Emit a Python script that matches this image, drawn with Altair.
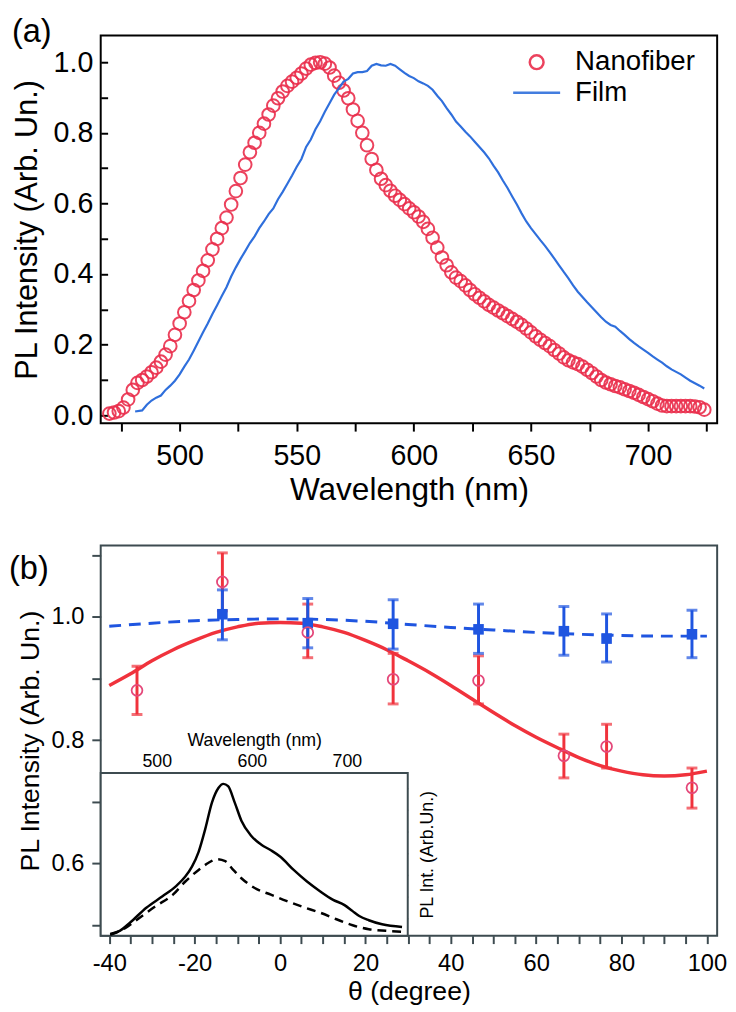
import altair as alt
import pandas as pd

FONT = "Liberation Sans"

# ---------------- panel (a) data ----------------
SERIES = ["Nanofiber", "Film"]
SERIES_COLORS = ["#ea2e4c", "#2f6fdc"]
SERIES_SHAPES = ["circle", "M-3.4,0L3.4,0"]

NANO_WL = list(range(470, 725, 2))
NANO_I = [
    0.005, 0.008, 0.012, 0.022, 0.045, 0.072, 0.092, 0.100, 0.110, 0.122,
    0.135, 0.152, 0.172, 0.196, 0.228, 0.260, 0.292, 0.324, 0.355, 0.382,
    0.409, 0.439, 0.470, 0.500, 0.530, 0.560, 0.597, 0.635, 0.672, 0.710,
    0.745, 0.772, 0.800, 0.826, 0.852, 0.877, 0.898, 0.917, 0.933, 0.945,
    0.956, 0.968, 0.982, 0.993, 0.998, 1.000, 0.996, 0.985, 0.962, 0.942,
    0.920, 0.898, 0.866, 0.834, 0.800, 0.765, 0.726, 0.695, 0.670, 0.652,
    0.636, 0.622, 0.610, 0.598, 0.586, 0.575, 0.563, 0.548, 0.528, 0.503,
    0.475, 0.447, 0.425, 0.405, 0.390, 0.380, 0.368, 0.355, 0.343, 0.333,
    0.323, 0.313, 0.305, 0.297, 0.289, 0.281, 0.273, 0.265, 0.256, 0.246,
    0.235, 0.224, 0.214, 0.205, 0.196, 0.185, 0.175, 0.164, 0.156, 0.150,
    0.145, 0.138, 0.129, 0.120, 0.110, 0.100, 0.093, 0.088, 0.083, 0.079,
    0.074, 0.069, 0.064, 0.058, 0.052, 0.046, 0.040, 0.033, 0.028, 0.026,
    0.026, 0.026, 0.026, 0.026, 0.026, 0.025, 0.023, 0.016,
]

FILM_WL = [481] + list(range(484, 725, 2))
FILM_I = [
    0.011,
    0.014, 0.030, 0.042, 0.050, 0.056, 0.072, 0.084, 0.098, 0.116, 0.138,
    0.158, 0.183, 0.209, 0.235, 0.260, 0.287, 0.312, 0.338, 0.363, 0.393,
    0.419, 0.443, 0.465, 0.488, 0.507, 0.530, 0.549, 0.570, 0.586, 0.612,
    0.633, 0.656, 0.679, 0.704, 0.726, 0.760, 0.781, 0.810, 0.833, 0.860,
    0.884, 0.908, 0.926, 0.945, 0.953, 0.968, 0.972, 0.972, 0.975, 0.990,
    0.995, 0.991, 0.990, 0.995, 0.990, 0.980, 0.970, 0.961, 0.955, 0.946,
    0.940, 0.933, 0.922, 0.905, 0.890, 0.870, 0.852, 0.832, 0.818, 0.803,
    0.790, 0.775, 0.760, 0.745, 0.728, 0.707, 0.688, 0.665, 0.644, 0.620,
    0.597, 0.572, 0.549, 0.530, 0.513, 0.496, 0.480, 0.462, 0.444, 0.425,
    0.406, 0.388, 0.368, 0.350, 0.335, 0.320, 0.306, 0.292, 0.278, 0.265,
    0.256, 0.251, 0.239, 0.228, 0.216, 0.205, 0.195, 0.186, 0.177, 0.167,
    0.158, 0.149, 0.139, 0.130, 0.123, 0.116, 0.107, 0.098, 0.091, 0.084,
    0.076,
]

A_X_DOMAIN = [466.3, 729.5]
A_Y_DOMAIN = [-0.0223, 1.0754]
A_X_TICKS = [475, 500, 525, 550, 575, 600, 625, 650, 675, 700, 725]
A_Y_TICKS = [0.0, 0.1, 0.2, 0.3, 0.4, 0.5, 0.6, 0.7, 0.8, 0.9, 1.0]

# ---------------- panel (b) data ----------------
FIT_TH = [-40, -35, -30, -25, -20, -15, -10, -5, 0, 5, 10, 15, 20, 25, 30,
          35, 40, 45, 50, 55, 60, 65, 70, 75, 80, 85, 90, 95, 100]
RED_FIT = [0.889, 0.908, 0.929, 0.947, 0.962, 0.975, 0.984, 0.990, 0.991,
           0.990, 0.984, 0.975, 0.962, 0.947, 0.929, 0.910, 0.889, 0.867,
           0.845, 0.824, 0.805, 0.788, 0.772, 0.759, 0.750, 0.744, 0.742,
           0.744, 0.750]
BLUE_FIT_TH = [-40, -30, -20, -10, 0, 10, 20, 30, 40, 50, 60, 70, 80, 90, 100]
BLUE_FIT = [0.985, 0.990, 0.994, 0.996, 0.997, 0.996, 0.993, 0.988, 0.983,
            0.979, 0.975, 0.972, 0.970, 0.969, 0.969]

RED_TH = [-33.5, -13.5, 6.5, 26.5, 46.5, 66.5, 76.5, 96.5]
RED_Y = [0.881, 1.057, 0.975, 0.899, 0.897, 0.775, 0.790, 0.723]
RED_LO = [0.842, 1.010, 0.934, 0.859, 0.859, 0.739, 0.755, 0.690]
RED_HI = [0.920, 1.104, 1.021, 0.941, 0.937, 0.810, 0.826, 0.755]

BLUE_TH = [-13.5, 6.5, 26.5, 46.5, 66.5, 76.5, 96.5]
BLUE_Y = [1.0045, 0.990, 0.989, 0.980, 0.977, 0.965, 0.972]
BLUE_LO = [0.963, 0.950, 0.948, 0.941, 0.938, 0.927, 0.934]
BLUE_HI = [1.044, 1.030, 1.028, 1.021, 1.017, 1.005, 1.011]

B_X_DOMAIN = [-42.0, 102.4]
B_Y_DOMAIN = [0.483, 1.116]
B_X_TICKS = [-40, -35, -30, -25, -20, -15, -10, -5, 0, 5, 10, 15, 20, 25,
             30, 35, 40, 45, 50, 55, 60, 65, 70, 75, 80, 85, 90, 95, 100]
B_Y_TICKS = [0.5, 0.6, 0.7, 0.8, 0.9, 1.0, 1.1]

# inset (spectra)
INSET_SOLID_WL = [451, 461, 472, 489, 506, 520, 530, 537, 544, 551, 558, 565,
                  570, 575, 582, 589, 599, 610, 620, 630, 644, 658, 672, 685,
                  697.5, 706, 713, 723, 737, 758]
INSET_SOLID_I = [0.010, 0.030, 0.081, 0.172, 0.242, 0.303, 0.363, 0.424,
                 0.515, 0.656, 0.818, 0.909, 0.933, 0.919, 0.818, 0.707,
                 0.616, 0.559, 0.525, 0.485, 0.404, 0.333, 0.272, 0.222,
                 0.188, 0.151, 0.121, 0.095, 0.070, 0.054]
INSET_DASH_WL = [451, 465, 482, 499, 517, 530, 544, 554.5, 563, 572, 579,
                 589, 603, 620, 637, 654, 672, 689, 706, 723, 741, 758]
INSET_DASH_I = [0.006, 0.040, 0.111, 0.182, 0.252, 0.333, 0.404, 0.448,
                0.470, 0.458, 0.414, 0.353, 0.293, 0.252, 0.212, 0.176,
                0.141, 0.101, 0.064, 0.040, 0.030, 0.024]
INSET_WL_DOMAIN = [441, 764]
INSET_I_DOMAIN = [0, 1]
INSET_WL_TICKS = [450, 475, 500, 525, 550, 575, 600, 625, 650, 675, 700, 725, 750]
INSET_I_TICKS = [0.104, 0.238, 0.372, 0.506, 0.640, 0.774, 0.908]

# ---------------- layout constants ----------------
W = 625
HA = 393
HB = 395.6
INSET_W = 311.3
INSET_TOP = 230.6

RED = "#f0323c"
RED_PT = "#e4487a"
BLUE = "#1f55e0"
SLATE = "#3d4b50"

# ================= panel (a) =================
nano_df = pd.DataFrame({"wl": NANO_WL[:len(NANO_I)], "I": NANO_I[:len(NANO_WL)]})
nano_df["series"] = "Nanofiber"
n = min(len(FILM_WL), len(FILM_I))
film_df = pd.DataFrame({"wl": FILM_WL[:n], "I": FILM_I[:n]})
film_df["series"] = "Film"

xa = alt.X("wl:Q", title="Wavelength (nm)",
           scale=alt.Scale(domain=A_X_DOMAIN, nice=False, zero=False),
           axis=alt.Axis(values=A_X_TICKS,
                         labelExpr="datum.value % 50 === 0 ? datum.label : ''",
                         tickSize=8, tickWidth=2, tickColor="black", domain=False,
                         labelFontSize=29, labelPadding=11, titleFontSize=32,
                         titlePadding=4, labelOverlap=False, grid=False))
ya = alt.Y("I:Q", title="PL Intensity (Arb. Un.)",
           scale=alt.Scale(domain=A_Y_DOMAIN, nice=False, zero=False),
           axis=alt.Axis(values=A_Y_TICKS,
                         labelExpr="round(datum.value*10) % 2 === 0 ? format(datum.value, '.1f') : ''",
                         offset=-7, tickSize=7, tickWidth=2, tickColor="black",
                         domain=False, labelFontSize=29, labelPadding=8,
                         titleFontSize=31, titlePadding=10, labelOverlap=False,
                         grid=False))

leg = alt.Legend(orient="none", legendX=428, legendY=13,
                 labelFont=FONT, labelFontSize=28, labelColor="black",
                 labelOffset=25, rowPadding=3, symbolSize=196,
                 symbolStrokeWidth=2.5, padding=0, labelLimit=0)
color_enc = alt.Color("series:N", title=None,
                      scale=alt.Scale(domain=SERIES, range=SERIES_COLORS),
                      legend=leg)
shape_enc = alt.Shape("series:N", title=None,
                      scale=alt.Scale(domain=SERIES, range=SERIES_SHAPES),
                      legend=leg)

nano = alt.Chart(nano_df).mark_point(filled=False, size=165, strokeWidth=2,
                                     opacity=0.9).encode(
    x=xa, y=ya, color=color_enc, shape=shape_enc)
film = alt.Chart(film_df).mark_line(strokeWidth=2.2).encode(
    x=xa, y=ya, color=color_enc)
lab_a = alt.Chart(pd.DataFrame({"t": ["(a)"]})).mark_text(
    font=FONT, fontSize=33, align="left", baseline="middle", color="black"
).encode(text="t:N", x=alt.value(-90), y=alt.value(-4))

panel_a = alt.layer(nano, film, lab_a).properties(
    width=W, height=HA,
    view=alt.ViewBackground(stroke="black", strokeWidth=2))

# ================= panel (b) =================
xb = alt.X("th:Q", title="θ (degree)",
           scale=alt.Scale(domain=B_X_DOMAIN, nice=False, zero=False),
           axis=alt.Axis(values=B_X_TICKS,
                         labelExpr="datum.value % 20 === 0 ? '' + datum.value : ''",
                         tickSize=8, tickWidth=2, tickColor=SLATE, domain=False,
                         labelFontSize=24, labelPadding=8, titleFontSize=27,
                         titlePadding=4, labelOverlap=False, grid=False))
yb = alt.Y("v:Q", title="PL Intensity (Arb. Un.)",
           scale=alt.Scale(domain=B_Y_DOMAIN, nice=False, zero=False),
           axis=alt.Axis(values=B_Y_TICKS,
                         labelExpr="round(datum.value*10) % 2 === 0 ? format(datum.value, '.1f') : ''",
                         tickSize=9, tickWidth=2, tickColor=SLATE, domain=False,
                         labelFontSize=24, labelPadding=8, titleFontSize=27,
                         titlePadding=7, labelOverlap=False, grid=False))

red_fit_df = pd.DataFrame({"th": FIT_TH, "v": RED_FIT})
blue_fit_df = pd.DataFrame({"th": BLUE_FIT_TH, "v": BLUE_FIT})
red_pts = pd.DataFrame({"th": RED_TH, "v": RED_Y})
blue_pts = pd.DataFrame({"th": BLUE_TH, "v": BLUE_Y})
red_bar = pd.DataFrame({"th": RED_TH, "v": RED_LO, "v2": RED_HI})
blue_bar = pd.DataFrame({"th": BLUE_TH, "v": BLUE_LO, "v2": BLUE_HI})
red_caps = pd.DataFrame({"th": RED_TH + RED_TH, "v": RED_LO + RED_HI})
blue_caps = pd.DataFrame({"th": BLUE_TH + BLUE_TH, "v": BLUE_LO + BLUE_HI})

l_red_bar = alt.Chart(red_bar).mark_rule(color=RED, strokeWidth=3).encode(
    x=xb, y=yb, y2="v2:Q")
l_red_caps = alt.Chart(red_caps).mark_tick(color=RED, orient="horizontal",
                                           size=11, thickness=3).encode(x=xb, y=yb)
l_red_fit = alt.Chart(red_fit_df).mark_line(color=RED, strokeWidth=3.5,
                                            interpolate="monotone").encode(x=xb, y=yb)
l_blue_bar = alt.Chart(blue_bar).mark_rule(color=BLUE, strokeWidth=3).encode(
    x=xb, y=yb, y2="v2:Q")
l_blue_caps = alt.Chart(blue_caps).mark_tick(color=BLUE, orient="horizontal",
                                             size=11, thickness=3).encode(x=xb, y=yb)
l_blue_fit = alt.Chart(blue_fit_df).mark_line(color=BLUE, strokeWidth=3,
                                              strokeDash=[12, 8],
                                              interpolate="monotone").encode(x=xb, y=yb)
l_blue_pts = alt.Chart(blue_pts).mark_point(shape="square", filled=True,
                                            size=115, color=BLUE, opacity=1).encode(x=xb, y=yb)
l_red_pts = alt.Chart(red_pts).mark_point(shape="circle", filled=False,
                                          size=120, strokeWidth=1.8, color=RED_PT,
                                          opacity=1).encode(x=xb, y=yb)
lab_b = alt.Chart(pd.DataFrame({"t": ["(b)"]})).mark_text(
    font=FONT, fontSize=33, align="left", baseline="middle", color="black"
).encode(text="t:N", x=alt.value(-93), y=alt.value(24))

main_b = alt.layer(l_red_bar, l_red_caps, l_red_fit, l_blue_bar, l_blue_caps,
                   l_blue_fit, l_blue_pts, l_red_pts, lab_b)

# inset
xi = alt.X("wl:Q", title="Wavelength (nm)",
           scale=alt.Scale(domain=INSET_WL_DOMAIN, range=[0, INSET_W],
                           nice=False, zero=False),
           axis=alt.Axis(orient="top", offset=-(INSET_TOP + 6), values=INSET_WL_TICKS,
                         labelExpr="datum.value % 100 === 0 ? datum.label : ''",
                         tickSize=6, tickWidth=1.5, tickColor=SLATE, domain=False,
                         labelFontSize=18, labelPadding=3, titleFontSize=18,
                         titlePadding=3, labelOverlap=False, grid=False))
yi = alt.Y("i:Q", title="PL Int. (Arb.Un.)",
           scale=alt.Scale(domain=INSET_I_DOMAIN, range=[HB, INSET_TOP],
                           nice=False, zero=False),
           axis=alt.Axis(orient="right", offset=(INSET_W - 6) - W,
                         values=INSET_I_TICKS, labels=False, tickSize=6,
                         tickWidth=1.5, tickColor=SLATE, domain=False,
                         titleFontSize=18, titleAngle=270, titleBaseline="top",
                         titlePadding=10, grid=False))

inset_box = pd.DataFrame({"wl": [INSET_WL_DOMAIN[0]], "wl2": [INSET_WL_DOMAIN[1]],
                          "i": [INSET_I_DOMAIN[0]], "i2": [INSET_I_DOMAIN[1]]})
inset_solid = pd.DataFrame({"wl": INSET_SOLID_WL, "i": INSET_SOLID_I})
inset_dash = pd.DataFrame({"wl": INSET_DASH_WL, "i": INSET_DASH_I})

l_box = alt.Chart(inset_box).mark_rect(fill="white", stroke=SLATE,
                                       strokeWidth=2).encode(
    x=xi, x2="wl2:Q", y=yi, y2="i2:Q")
l_solid = alt.Chart(inset_solid).mark_line(color="black", strokeWidth=2.5,
                                           interpolate="monotone").encode(x=xi, y=yi)
l_dash = alt.Chart(inset_dash).mark_line(color="black", strokeWidth=2.5,
                                         strokeDash=[9, 6],
                                         interpolate="monotone").encode(x=xi, y=yi)
inset = alt.layer(l_box, l_solid, l_dash)

panel_b = alt.layer(main_b, inset).resolve_scale(
    x="independent", y="independent").properties(
    width=W, height=HB,
    view=alt.ViewBackground(stroke=SLATE, strokeWidth=2))

chart = alt.vconcat(panel_a, panel_b, spacing=36).properties(
    padding={"left": 0, "top": 0, "right": 0, "bottom": 0},
    background="white",
).configure(font=FONT).configure_axis(
    labelFont=FONT, titleFont=FONT, titleFontWeight="normal",
    labelColor="black", titleColor="black",
).configure_legend(labelFont=FONT)

chart.save("out.html", embed_options={"renderer": "svg", "actions": False})
